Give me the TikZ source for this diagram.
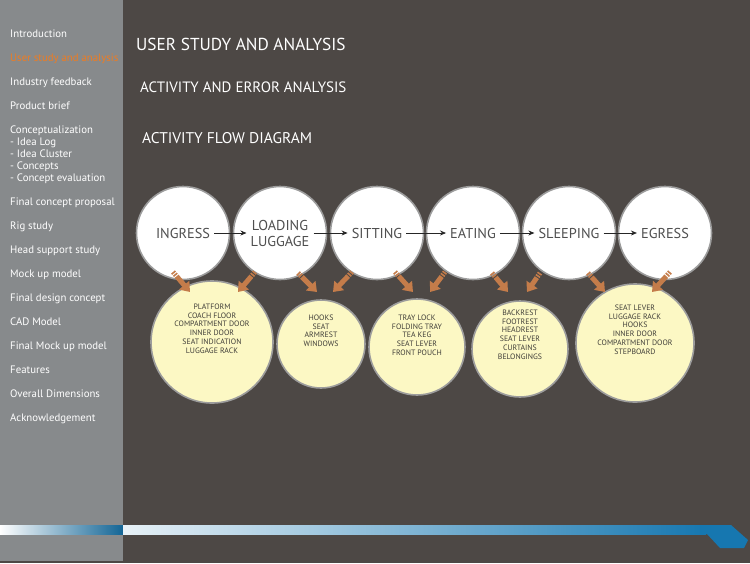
\documentclass[tikz,border=0pt]{standalone}
\usepackage{fontspec}
\setmainfont{PT Sans}
\usetikzlibrary{arrows.meta}
\definecolor{panel}{HTML}{4D4845}
\definecolor{side}{HTML}{878A8C}
\definecolor{hilite}{HTML}{EE7C22}
\definecolor{cream}{HTML}{FCF8C4}
\definecolor{rim}{HTML}{9C9C9C}
\definecolor{ink}{HTML}{4F4F4F}
\definecolor{ink2}{HTML}{3F3D38}
\definecolor{copper}{HTML}{C47C4A}
\definecolor{navy}{HTML}{1677B0}
\tikzset{
  menu/.style={anchor=west,text=white,font=\fontsize{10.8}{12}\selectfont,inner sep=0pt,text height=7pt,text depth=2pt},
  head/.style={anchor=west,text=white,inner sep=0pt},
  act/.style={circle,draw=rim,line width=1.6pt,fill=white,minimum size=93pt,inner sep=0pt,outer sep=0pt},
  actlab/.style={text=ink,font=\fontsize{14.3}{16}\selectfont,align=center,inner sep=4pt},
  item/.style={circle,draw=rim,line width=1.6pt,fill=cream,inner sep=0pt,outer sep=0pt},
  itemlab/.style={text=ink2,font=\fontsize{7.8}{8.8}\selectfont,align=center,anchor=north,inner sep=0pt},
  flow/.style={-{Stealth[length=6pt,width=5pt]},line width=0.8pt,draw=black!85},
  feed/.style={-{Triangle[length=9pt,width=13pt]},line width=5pt,draw=copper,
    dash pattern=on 1.6pt off 1.2pt on 1.6pt off 1.2pt on 60pt},
}
\begin{document}
\begin{tikzpicture}[x=1pt,y=-1pt]
\useasboundingbox (0,0) rectangle (750,563);
% backgrounds
\fill[panel] (0,0) rectangle (750,563);
\fill[side] (0,0) rectangle (123,561);
\shade[left color=white,right color=navy!85!black] (0,525) rectangle (123,534);
\shade[left color=navy!10,right color=navy] (123,525) rectangle (706,534);
\fill[navy] (700,525) -- (731,525) -- (748,540) -- (744,548) -- (720,548) -- (707,534) -- (700,534) -- cycle;

% side menu
\foreach \y/\t in {35/Introduction,83/Industry feedback,107/Product brief,
  131/Conceptualization,143/- Idea Log,155/- Idea Cluster,167/- Concepts,
  179/- Concept evaluation,203/Final concept proposal,227/Rig study,
  251/Head support study,275/Mock up model,299/Final design concept,
  323/CAD Model,347/Final Mock up model,371/Features,395/Overall Dimensions,
  419/Acknowledgement}
  \node[menu] (m\y) at (10,\y) {\t};
\node[menu,text=hilite] (m59) at (10,59) {User study and analysis};

% titles
\node[head,font=\fontsize{17.3}{20}\selectfont] (h1) at (136,44) {USER STUDY AND ANALYSIS};
\node[head,font=\fontsize{15}{17}\selectfont] (h2) at (140,87) {ACTIVITY AND ERROR ANALYSIS};
\node[head,font=\fontsize{15.5}{17}\selectfont] (h3) at (142,138) {ACTIVITY FLOW DIAGRAM};

% activities
\node[act] (c1) at (183,233) {};
\node[act] (c2) at (280,233) {};
\node[act] (c3) at (377,233) {};
\node[act] (c4) at (473,233) {};
\node[act] (c5) at (569,233) {};
\node[act] (c6) at (665,233) {};
\node[actlab] (t1) at (c1) {INGRESS};
\node[actlab] (t2) at (c2) {LOADING\\LUGGAGE};
\node[actlab] (t3) at (c3) {SITTING};
\node[actlab] (t4) at (c4) {EATING};
\node[actlab] (t5) at (c5) {SLEEPING};
\node[actlab] (t6) at (c6) {EGRESS};
\foreach \a/\b in {t1/t2,t2/t3,t3/t4,t4/t5,t5/t6}
  \draw[flow] (\a.east) -- (\b.west);

% touch points
\node[item,minimum size=122pt] (b1) at (212,342) {};
\node[item,minimum size=88pt] (b2) at (321,344) {};
\node[item,minimum size=96pt] (b3) at (417,347) {};
\node[item,minimum size=96pt] (b4) at (520,349) {};
\node[item,minimum size=118pt] (b5) at (635,343) {};
\node[itemlab] (l1) at (212,303.5) {PLATFORM\\COACH FLOOR\\COMPARTMENT DOOR\\INNER DOOR\\SEAT INDICATION\\LUGGAGE RACK};
\node[itemlab] (l2) at (321,314.5) {HOOKS\\SEAT\\ARMREST\\WINDOWS};
\node[itemlab] (l3) at (417,314.5) {TRAY LOCK\\FOLDING TRAY\\TEA KEG\\SEAT LEVER\\FRONT POUCH};
\node[itemlab] (l4) at (520,309.5) {BACKREST\\FOOTREST\\HEADREST\\SEAT LEVER\\CURTAINS\\BELONGINGS};
\node[itemlab] (l5) at (635,304.5) {SEAT LEVER\\LUGGAGE RACK\\HOOKS\\INNER DOOR\\COMPARTMENT DOOR\\STEPBOARD};

% activity -> touch points
\foreach \a/\sa/\b/\sb in {c1/{-10,39}/b1/{-22,-50},c2/{-25,39}/b1/{26,-50},
  c2/{18,40}/b2/{-4,-52},c3/{-25,39}/b2/{12,-52},c3/{18,39}/b3/{-4,-55},
  c4/{-28,39}/b3/{13,-55},c4/{19,40}/b4/{-12,-57},c5/{-29,40}/b4/{7,-57},
  c5/{19,40}/b5/{-30,-51},c6/{5,39}/b5/{17,-51}}
  \draw[feed] ([shift={(\sa)}]\a.center) -- ([shift={(\sb)}]\b.center);
\end{tikzpicture}
\end{document}
